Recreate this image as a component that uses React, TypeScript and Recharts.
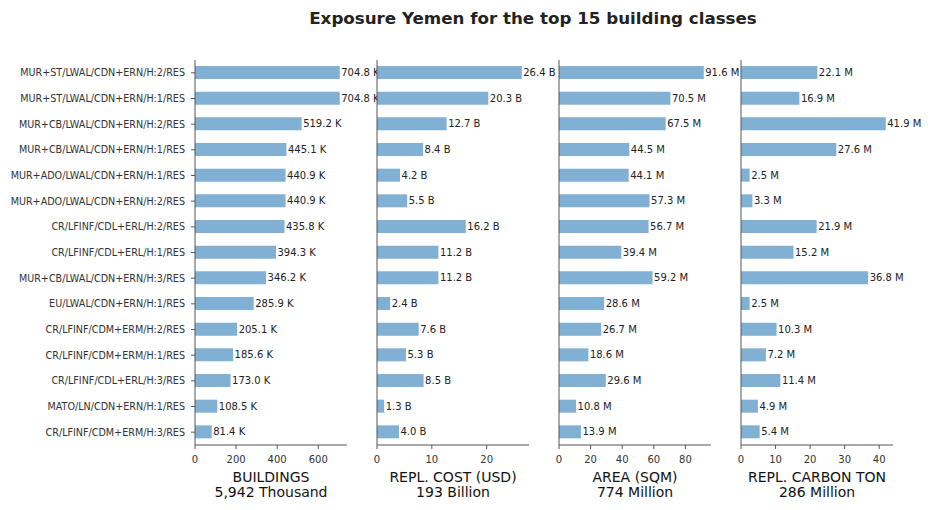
import React from 'react';
import { BarChart, Bar, XAxis, YAxis, LabelList } from 'recharts';

const categories = [
  'MUR+ST/LWAL/CDN+ERN/H:2/RES',
  'MUR+ST/LWAL/CDN+ERN/H:1/RES',
  'MUR+CB/LWAL/CDN+ERN/H:2/RES',
  'MUR+CB/LWAL/CDN+ERN/H:1/RES',
  'MUR+ADO/LWAL/CDN+ERN/H:1/RES',
  'MUR+ADO/LWAL/CDN+ERN/H:2/RES',
  'CR/LFINF/CDL+ERL/H:2/RES',
  'CR/LFINF/CDL+ERL/H:1/RES',
  'MUR+CB/LWAL/CDN+ERN/H:3/RES',
  'EU/LWAL/CDN+ERN/H:1/RES',
  'CR/LFINF/CDM+ERM/H:2/RES',
  'CR/LFINF/CDM+ERM/H:1/RES',
  'CR/LFINF/CDL+ERL/H:3/RES',
  'MATO/LN/CDN+ERN/H:1/RES',
  'CR/LFINF/CDM+ERM/H:3/RES',
];

// thousands
const buildings = [704.8, 704.8, 519.2, 445.1, 440.9, 440.9, 435.8, 394.3, 346.2, 285.9, 205.1, 185.6, 173.0, 108.5, 81.4];
// billions USD
const replCost = [26.4, 20.3, 12.7, 8.4, 4.2, 5.5, 16.2, 11.2, 11.2, 2.4, 7.6, 5.3, 8.5, 1.3, 4.0];
// millions sqm
const area = [91.6, 70.5, 67.5, 44.5, 44.1, 57.3, 56.7, 39.4, 59.2, 28.6, 26.7, 18.6, 29.6, 10.8, 13.9];
// millions ton
const carbon = [22.1, 16.9, 41.9, 27.6, 2.5, 3.3, 21.9, 15.2, 36.8, 2.5, 10.3, 7.2, 11.4, 4.9, 5.4];

const panels = [
  { title: 'BUILDINGS', total: '5,942 Thousand', values: buildings, unit: 'K', ticks: [0, 200, 400, 600] },
  { title: 'REPL. COST (USD)', total: '193 Billion', values: replCost, unit: 'B', ticks: [0, 10, 20] },
  { title: 'AREA (SQM)', total: '774 Million', values: area, unit: 'M', ticks: [0, 20, 40, 60, 80] },
  { title: 'REPL. CARBON TON', total: '286 Million', values: carbon, unit: 'M', ticks: [0, 10, 20, 30, 40] },
];

const FONT = '"DejaVu Sans", sans-serif';
const AXIS = '#555';
const TEXT = '#333';
const BAR = '#80b0d4';
const plotLefts = [195, 377, 559, 741];
const plotW = 152;
const extra = 40;

function Panel({ idx }: { idx: number }) {
  const p = panels[idx];
  const data = categories.map((name, i) => ({ name, v: p.values[i] }));
  const max = Math.max(...p.values) * 1.05;
  const yw = idx === 0 ? 195 : 10;
  const left = plotLefts[idx] - yw;
  return (
    <div style={{ position: 'absolute', left, top: 0 }}>
      <BarChart
        width={yw + plotW + extra}
        height={510}
        data={data}
        layout="vertical"
        margin={{ top: 60, right: extra, left: 0, bottom: 0 }}
        barSize={13}
      >
        <XAxis
          type="number"
          domain={[0, max]}
          ticks={p.ticks}
          height={65}
          tickSize={4}
          tickMargin={7}
          stroke={AXIS}
          tick={{ fill: TEXT, fontSize: 10, fontFamily: FONT }}
          label={({ viewBox }: any) => {
            const cx = viewBox.x + viewBox.width / 2;
            return (
              <text textAnchor="middle" fontFamily={FONT} fontSize={14} fill="#111">
                <tspan x={cx} y={482}>{p.title}</tspan>
                <tspan x={cx} y={497}>{p.total}</tspan>
              </text>
            );
          }}
        />
        <YAxis
          type="category"
          dataKey="name"
          width={yw}
          interval={0}
          tickSize={4}
          tickMargin={6}
          stroke={AXIS}
          tick={idx === 0 ? { fill: TEXT, fontSize: 9.6, fontFamily: FONT } : false}
        />
        <Bar dataKey="v" fill={BAR} isAnimationActive={false}>
          <LabelList
            dataKey="v"
            content={(props: any) => {
              const { x, y, width, height, value } = props;
              return (
                <text
                  x={Number(x) + Number(width) + 1.5}
                  y={Number(y) + Number(height) / 2}
                  dominantBaseline="central"
                  fill="#222"
                  fontSize={10}
                  fontFamily={FONT}
                >
                  {`${Number(value).toFixed(1)} ${p.unit}`}
                </text>
              );
            }}
          />
        </Bar>
      </BarChart>
    </div>
  );
}

export default function App() {
  return (
    <div style={{ position: 'absolute', left: 0, top: 0, width: 930, height: 510, background: '#fff' }}>
      <div
        style={{
          position: 'absolute',
          left: 0,
          width: 1066,
          top: 8,
          textAlign: 'center',
          fontFamily: FONT,
          fontWeight: 'bold',
          fontSize: 16.7,
          color: '#222',
        }}
      >
        Exposure Yemen for the top 15 building classes
      </div>
      {panels.map((_, i) => (
        <Panel key={i} idx={i} />
      ))}
    </div>
  );
}
